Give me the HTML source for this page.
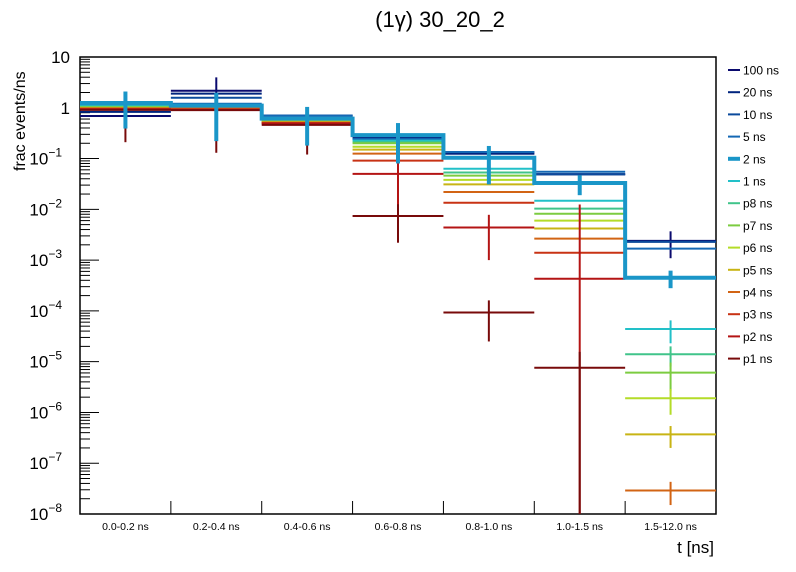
<!DOCTYPE html>
<html><head><meta charset="utf-8"><style>
body{margin:0;background:#fff;}
svg{display:block;font-family:"Liberation Sans",sans-serif;}
</style></head><body>
<svg id="chart" width="796" height="572" xmlns="http://www.w3.org/2000/svg">
<text x="440" y="27" font-size="22" text-anchor="middle">(1γ) 30_20_2</text>
<text transform="translate(25,171) rotate(-90)" font-size="16" text-anchor="start">frac events/ns</text>
<text x="714" y="553" font-size="17" text-anchor="end">t [ns]</text>
<g id="axes"></g><g id="marks"></g><g id="legend"></g>
</svg>
<script>
const categories=["0.0-0.2 ns","0.2-0.4 ns","0.4-0.6 ns","0.6-0.8 ns","0.8-1.0 ns","1.0-1.5 ns","1.5-12.0 ns"];
const seriesNames=["100 ns","20 ns","10 ns","5 ns","2 ns","1 ns","p8 ns","p7 ns","p6 ns","p5 ns","p4 ns","p3 ns","p2 ns","p1 ns"];
const seriesColors=["#0a0a6e","#00247e","#0a4a9c","#1468b4","#1a96c8","#22c0c8","#40c48a","#7ccc40","#b4dc28","#c8b414","#d26414","#c83214","#b41414","#780a0a"];
const v100=[0.69,2.17,0.70,0.255,0.125,0.049,0.00239];
const v20=[0.83,1.90,0.70,0.25,0.125,0.049,0.0023];
const v10=[0.99,1.58,0.70,0.245,0.135,0.049,0.0023];
const v5=[1.13,1.20,0.70,0.24,0.135,0.055,0.00168];
const v2=[1.24,1.10,0.61,0.29,0.104,0.033,0.00045];
const v1=[1.08,1.08,0.55,0.225,0.063,0.0148,4.4e-5];
const vp8=[1.05,1.05,0.55,0.21,0.053,0.0103,1.4e-5];
const vp7=[1.02,1.02,0.54,0.20,0.046,0.0082,6.1e-6];
const vp6=[1.0,1.0,0.53,0.171,0.038,0.0060,1.9e-6];
const vp5=[0.99,0.99,0.52,0.150,0.031,0.0042,3.7e-7];
const vp4=[0.97,0.96,0.51,0.125,0.022,0.00265,2.9e-8];
const vp3=[0.95,0.93,0.50,0.091,0.0135,0.0014,null];
const vp2=[0.93,0.91,0.49,0.050,0.0044,4.3e-4,null];
const vp1=[0.91,0.90,0.46,0.0074,9.3e-5,7.6e-6,null];
const e100=[null,1.8,null,null,null,null,0.0013];
const e2=[0.85,0.88,0.43,0.21,0.073,0.014,1.7e-4];
const e1=[null,null,null,null,null,null,2.1e-5];
const ep8=[null,null,null,null,null,null,6e-6];
const ep7=[null,null,null,null,null,null,3.5e-6];
const ep6=[null,null,null,null,null,null,1.0e-6];
const ep5=[null,null,null,null,null,null,1.7e-7];
const ep4=[null,null,null,null,null,null,1.4e-8];
const ep2=[null,null,null,0.045,0.0034,0.012,null];
const ep1=[0.7,0.77,0.34,0.0052,6.8e-5,8e-6,null];
const yTickExps=[1,0,-1,-2,-3,-4,-5,-6,-7,-8];

const values=[v100,v20,v10,v5,v2,v1,vp8,vp7,vp6,vp5,vp4,vp3,vp2,vp1];
const errs=[e100,null,null,null,e2,e1,ep8,ep7,ep6,ep5,ep4,null,ep2,ep1];
const NS="http://www.w3.org/2000/svg";
const X0=80,X1=716,Y0=57,Y1=514,LMAX=1,LMIN=-8;
const bw=(X1-X0)/categories.length;
function xPos(i){return X0+i*bw;}
function yPos(v){const l=Math.log10(v);let y=Y0+(LMAX-l)/(LMAX-LMIN)*(Y1-Y0);return Math.max(Y0,Math.min(Y1,y));}
function mk(tag,attrs,parent){const e=document.createElementNS(NS,tag);for(const k in attrs)e.setAttribute(k,attrs[k]);parent.appendChild(e);return e;}
const axes=document.getElementById('axes'),marks=document.getElementById('marks'),legend=document.getElementById('legend');
let f=mk('rect',{x:X0,y:Y0,width:X1-X0,height:Y1-Y0,fill:'none',stroke:'#000','stroke-width':1.5},axes);


yTickExps.forEach(ex=>{
  const y=yPos(Math.pow(10,ex));
  const t=mk('line',{x1:X0,x2:X0+19,y1:y,y2:y,stroke:'#000','stroke-width':1},axes);
  
  
  const tx=mk('text',{x:ex<=-1?62:70,y:y+6,'font-size':17,'text-anchor':'end'},axes);
  
  
  if(ex===1)tx.textContent='10';else if(ex===0)tx.textContent='1';
  else{tx.textContent='10';const s=mk('tspan',{dy:-8,'font-size':12},tx);s.textContent='\u2212'+(-ex);}
  if(ex>LMIN){for(let m=2;m<=9;m++){const ym=yPos(m*Math.pow(10,ex-1));
    const mt=mk('line',{x1:X0,x2:X0+10,y1:ym,y2:ym,stroke:'#000','stroke-width':1},axes);
    
    }}
});
categories.forEach((c,i)=>{
  if(i>0){const t=mk('line',{x1:xPos(i),x2:xPos(i),y1:Y1,y2:Y1-13,stroke:'#000','stroke-width':1},axes);
    
    }
  const tx=mk('text',{x:xPos(i)+bw/2,y:530,'font-size':10.5,'text-anchor':'middle'},axes);
  
  
  tx.textContent=c;
});
function drawSeries(s){
  const vals=values[s],er=errs[s],col=seriesColors[s],thick=(s===4);
  const g=mk('g',{},marks);
  
  
  const sw=thick?4:2;
  if(thick){let d='';vals.forEach((v,i)=>{const y=yPos(v);d+=(i===0?'M':'L')+xPos(i)+','+y+'L'+xPos(i+1)+','+y;});
    const p=mk('path',{d:d,fill:'none',stroke:col,'stroke-width':sw},g);
    
    }
  vals.forEach((v,i)=>{
    if(v===null)return;
    const y=yPos(v);
    if(!thick){const l=mk('line',{x1:xPos(i),x2:xPos(i+1),y1:y,y2:y,stroke:col,'stroke-width':sw},g);
      
      }
    if(er&&er[i]!==null){const xc=xPos(i)+bw/2;const hi=yPos(v+er[i]);const lo=(v-er[i]>0)?yPos(v-er[i]):Y1;
      const eb=mk('line',{x1:xc,x2:xc,y1:hi,y2:lo,stroke:col,'stroke-width':thick?4:2},g);
      
      }
  });
}
for(let s=0;s<seriesNames.length;s++){if(s!==4)drawSeries(s);}
drawSeries(4);
seriesNames.forEach((n,s)=>{
  const y=70+s*22.2;
  const l=mk('line',{x1:728,x2:740,y1:y,y2:y,stroke:seriesColors[s],'stroke-width':s===4?4:2},legend);
  
  
  const t=mk('text',{x:743,y:y+4.5,'font-size':12},legend);
  
  
  t.textContent=n;
});
</script>
</body></html>
